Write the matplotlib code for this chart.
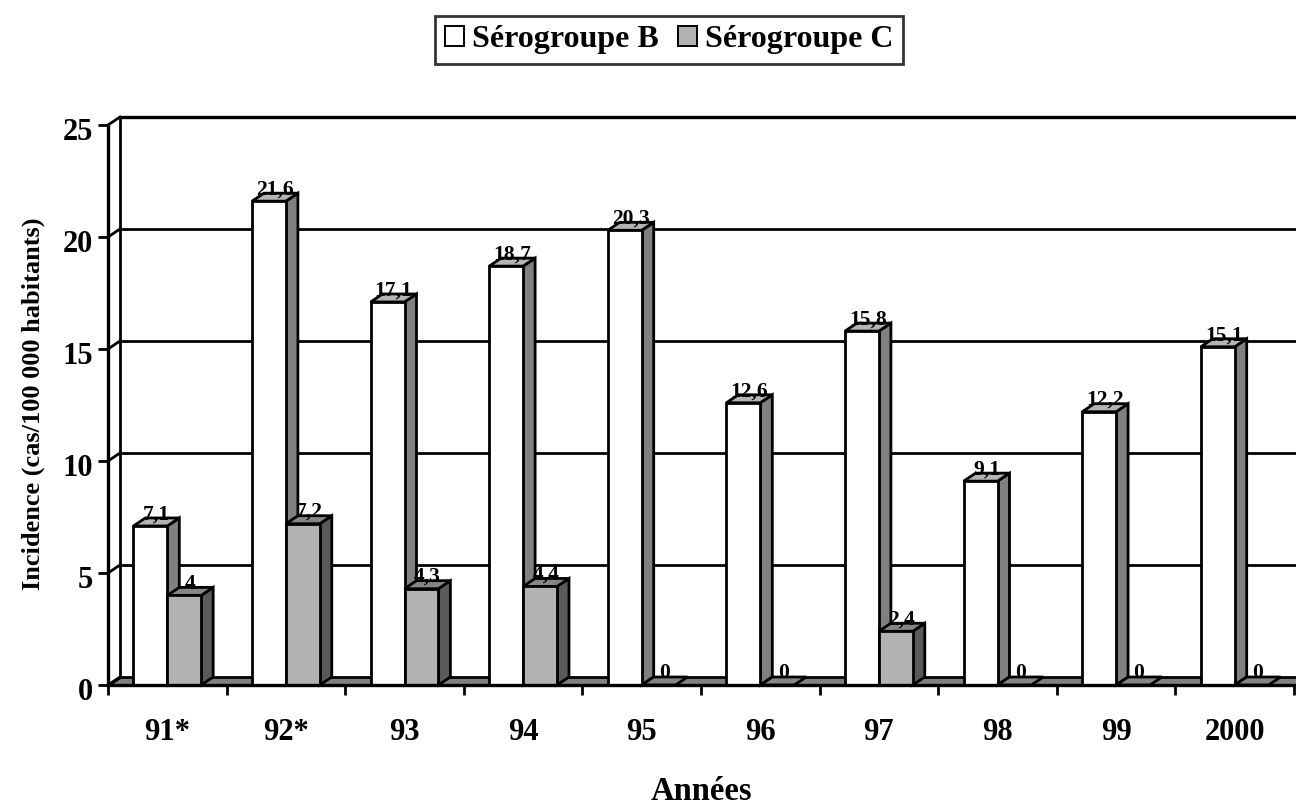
import matplotlib
matplotlib.use("Agg")
import matplotlib.pyplot as plt
from matplotlib.patches import Polygon, Patch
from matplotlib.transforms import ScaledTranslation

# --- data -------------------------------------------------------------
years = ["91*", "92*", "93", "94", "95", "96", "97", "98", "99", "2000"]
serogroup_b = [7.1, 21.6, 17.1, 18.7, 20.3, 12.6, 15.8, 9.1, 12.2, 15.1]
serogroup_c = [4, 7.2, 4.3, 4.4, 0, 0, 2.4, 0, 0, 0]
series_names = ["Sérogroupe B", "Sérogroupe C"]
y_ticks = [0, 5, 10, 15, 20, 25]

# --- styling ----------------------------------------------------------
plt.rcParams["font.family"] = ["Liberation Serif", "DejaVu Serif"]
plt.rcParams["font.weight"] = "bold"

W, H, DPI = 1296, 805, 100
fig = plt.figure(figsize=(W / DPI, H / DPI), dpi=DPI)

ax_left, ax_bottom, ax_w, ax_h = 108, 120, 1186, 560
ax = fig.add_axes([ax_left / W, ax_bottom / H, ax_w / W, ax_h / H])
n = len(years)
ymax = 25
ax.set_xlim(0, n)
ax.set_ylim(0, ymax)
ax.set_facecolor("none")

# depth of the pseudo-3D projection, in pixels, converted to data units
depth_px_x, depth_px_y = 12, 8
ddx = depth_px_x / (ax_w / n)
ddy = depth_px_y / (ax_h / ymax)

LW = 2.0
EDGE = "black"
x_far = n + 2 * ddx  # walls/floor run off the right edge

# back wall
ax.add_patch(Polygon([(ddx, ddy), (x_far, ddy), (x_far, ymax + ddy), (ddx, ymax + ddy)],
                     closed=True, facecolor="white", edgecolor="none", zorder=1, clip_on=False))
# floor
ax.add_patch(Polygon([(0, 0), (x_far, 0), (x_far, ddy), (ddx, ddy)],
                     closed=True, facecolor="#808080", edgecolor=EDGE, lw=LW,
                     zorder=2, clip_on=False, joinstyle="miter"))
# gridlines on the back wall and the left side wall
for v in y_ticks:
    if v > 0:
        ax.plot([ddx, x_far], [v + ddy, v + ddy], color=EDGE, lw=LW + 0.4 if v == ymax else LW,
                zorder=2, clip_on=False, solid_capstyle="butt")
    ax.plot([0, ddx], [v, v + ddy], color=EDGE, lw=LW, zorder=2, clip_on=False)
ax.plot([ddx, ddx], [ddy, ymax + ddy], color=EDGE, lw=LW, zorder=2, clip_on=False)

# bars
bar_w = 1 / 3.5  # gap width 150 %
styles = [
    dict(front="white", top="#b4b4b4", side="#808080"),
    dict(front="#b2b2b2", top="#868686", side="#5a5a5a"),
]


def draw_bar(x0, h, st, z):
    kw = dict(closed=True, edgecolor=EDGE, lw=LW, zorder=z, clip_on=False, joinstyle="miter")
    side = [(x0 + bar_w, 0), (x0 + bar_w + ddx, ddy), (x0 + bar_w + ddx, h + ddy), (x0 + bar_w, h)]
    top = [(x0, h), (x0 + bar_w, h), (x0 + bar_w + ddx, h + ddy), (x0 + ddx, h + ddy)]
    if h > 0:
        ax.add_patch(Polygon(side, facecolor=st["side"], **kw))
    ax.add_patch(Polygon(top, facecolor=st["top"], **kw))
    if h > 0:
        ax.add_patch(Polygon([(x0, 0), (x0 + bar_w, 0), (x0 + bar_w, h), (x0, h)],
                             facecolor=st["front"], **kw))


def fmt(v):
    return f"{v:g}".replace(".", ",")


z = 3
for i in range(n):
    for k, vals in enumerate([serogroup_b, serogroup_c]):
        x0 = i + (0.75 + k) * bar_w
        h = vals[i]
        draw_bar(x0, h, styles[k], z)
        ax.text(x0 + (bar_w + ddx) / 2, h + ddy - 0.06, fmt(h), ha="center", va="baseline",
                fontsize=15.5, fontweight="bold", zorder=50)
        z += 1

# axes decorations
for s in ["top", "right", "bottom"]:
    ax.spines[s].set_visible(False)
ax.spines["left"].set_linewidth(LW + 0.4)
ax.spines["left"].set_zorder(40)
ax.plot([0, x_far], [0, 0], color=EDGE, lw=LW + 0.4, zorder=40, clip_on=False)

ax.set_yticks(y_ticks)
ax.set_yticklabels([str(t) for t in y_ticks])
ax.tick_params(axis="y", direction="out", length=7.5, width=LW, pad=3.5, labelsize=22)

ax.set_xticks([i + 0.5 for i in range(n)])
ax.set_xticklabels(years)
ax.set_xticks(list(range(n + 1)), minor=True)
ax.tick_params(axis="x", which="major", length=0, pad=24, labelsize=22)
ax.tick_params(axis="x", which="minor", direction="out", length=7.5, width=LW)
for lab in ax.get_xticklabels():
    lab.set_fontweight("bold")
nudge = ScaledTranslation(0, -3 / 72, fig.dpi_scale_trans)
for lab in ax.get_yticklabels():
    lab.set_fontweight("bold")
    lab.set_transform(lab.get_transform() + nudge)

ax.set_xlabel("Années", fontsize=23.5, fontweight="bold")
ax.xaxis.set_label_coords(0.5, (H - 800 - ax_bottom) / ax_h)
ax.xaxis.label.set_va("baseline")

ax.set_ylabel("Incidence (cas/100 000 habitants)", fontsize=19, fontweight="bold")
ax.yaxis.set_label_coords((45 - ax_left) / ax_w, (H - 404 - ax_bottom) / ax_h)

# legend
handles = [Patch(facecolor=styles[0]["front"], edgecolor=EDGE, lw=1.4),
           Patch(facecolor=styles[1]["front"], edgecolor=EDGE, lw=1.4)]
leg = fig.legend(handles, series_names, loc="center", bbox_to_anchor=(669 / W, 1 - 40 / H),
                 ncol=2, frameon=True, fancybox=False, edgecolor=EDGE,
                 prop=dict(family="Liberation Serif", weight="bold", size=23),
                 handlelength=0.6, handleheight=0.6, handletextpad=0.25,
                 columnspacing=0.6, borderpad=0.3, borderaxespad=0)
leg.get_frame().set_linewidth(2.0)

fig.savefig("out.png", dpi=DPI)
